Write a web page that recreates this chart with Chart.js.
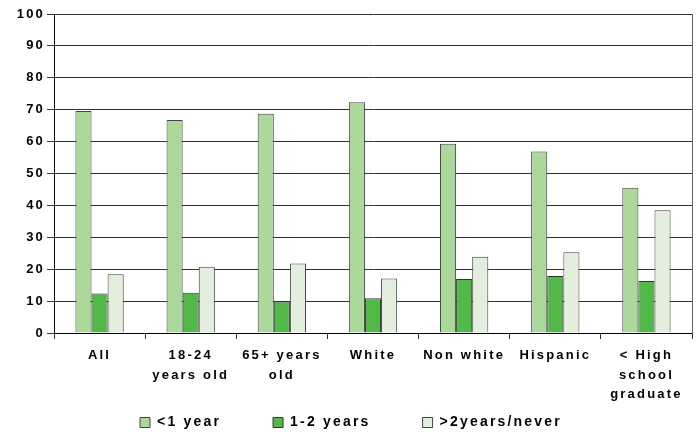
<!DOCTYPE html>
<html>
<head>
<meta charset="utf-8">
<script src="https://cdn.jsdelivr.net/npm/chart.js@4/dist/chart.umd.min.js"></script>
<style>
  html, body { margin: 0; padding: 0; background: #fff; }
  #wrap { width: 698px; height: 433px; }
</style>
</head>
<body>
<div id="wrap"><canvas id="chart"></canvas></div>
<script>
// Categories and series
const categories = ['All', ['18-24', 'years old'], ['65+ years', 'old'], 'White', 'Non white', 'Hispanic', ['< High', 'school', 'graduate']];
const lessThanOneYear = [69.6, 66.8, 68.7, 72.3, 59.3, 56.9, 45.5];
const oneToTwoYears = [12.4, 12.6, 9.9, 10.9, 16.9, 17.9, 16.3];
const overTwoYears = [18.4, 20.8, 21.8, 17.1, 23.9, 25.3, 38.5];
const yTicks = [0, 10, 20, 30, 40, 50, 60, 70, 80, 90, 100];

Chart.defaults.font.family = "'Liberation Sans', Arial, sans-serif";
Chart.defaults.font.weight = 'bold';
Chart.defaults.font.size = 13;
Chart.defaults.color = '#000';

// the original text is widely tracked
const spacing = {
  id: 'spacing',
  beforeUpdate(chart) { chart.ctx.letterSpacing = '2.2px'; },
  beforeDraw(chart) { chart.ctx.letterSpacing = '2.2px'; }
};

// put the legend where the original has it
const legendPlace = {
  id: 'legendPlace',
  afterLayout(chart) {
    chart.legend.left = 88;
    chart.legend.top = 363.5;
  }
};

const ctx = document.getElementById('chart').getContext('2d');
new Chart(ctx, {
  type: 'bar',
  data: {
    labels: categories,
    datasets: [
      { label: '<1 year', data: lessThanOneYear, backgroundColor: '#acd89c', borderColor: '#444', borderWidth: 1 },
      { label: '1-2 years', data: oneToTwoYears, backgroundColor: '#52b848', borderColor: '#333', borderWidth: 1 },
      { label: '>2years/never', data: overTwoYears, backgroundColor: '#e3efdc', borderColor: '#444', borderWidth: 1 }
    ]
  },
  options: {
    responsive: true,
    maintainAspectRatio: false,
    animation: false,
    layout: { padding: { top: 14, right: 6, left: 0, bottom: 0 } },
    datasets: { bar: { categoryPercentage: 0.53, barPercentage: 1 } },
    scales: {
      x: {
        grid: { drawOnChartArea: false, drawTicks: true, tickLength: 6, color: '#333' },
        border: { color: '#000' },
        ticks: { padding: 7, maxRotation: 0, autoSkip: false, font: { lineHeight: 1.5 } }
      },
      y: {
        min: 0,
        max: 100,
        afterFit(scale) { scale.width = 54; },
        afterBuildTicks(scale) { scale.ticks = yTicks.map(v => ({ value: v })); },
        grid: { color: '#333', tickLength: 7 },
        border: { color: '#000' },
        ticks: { padding: 2 }
      },
      yr: {
        position: 'right',
        min: 0,
        max: 100,
        grid: { drawOnChartArea: false, drawTicks: false },
        border: { color: '#666' },
        ticks: { display: false }
      }
    },
    plugins: {
      legend: {
        position: 'bottom',
        align: 'start',
        maxHeight: 21.5,
        labels: { boxWidth: 10, boxHeight: 10, padding: 52, color: '#000', font: { size: 14 } }
      },
      tooltip: { enabled: false }
    }
  },
  plugins: [spacing, legendPlace]
});
</script>
</body>
</html>
